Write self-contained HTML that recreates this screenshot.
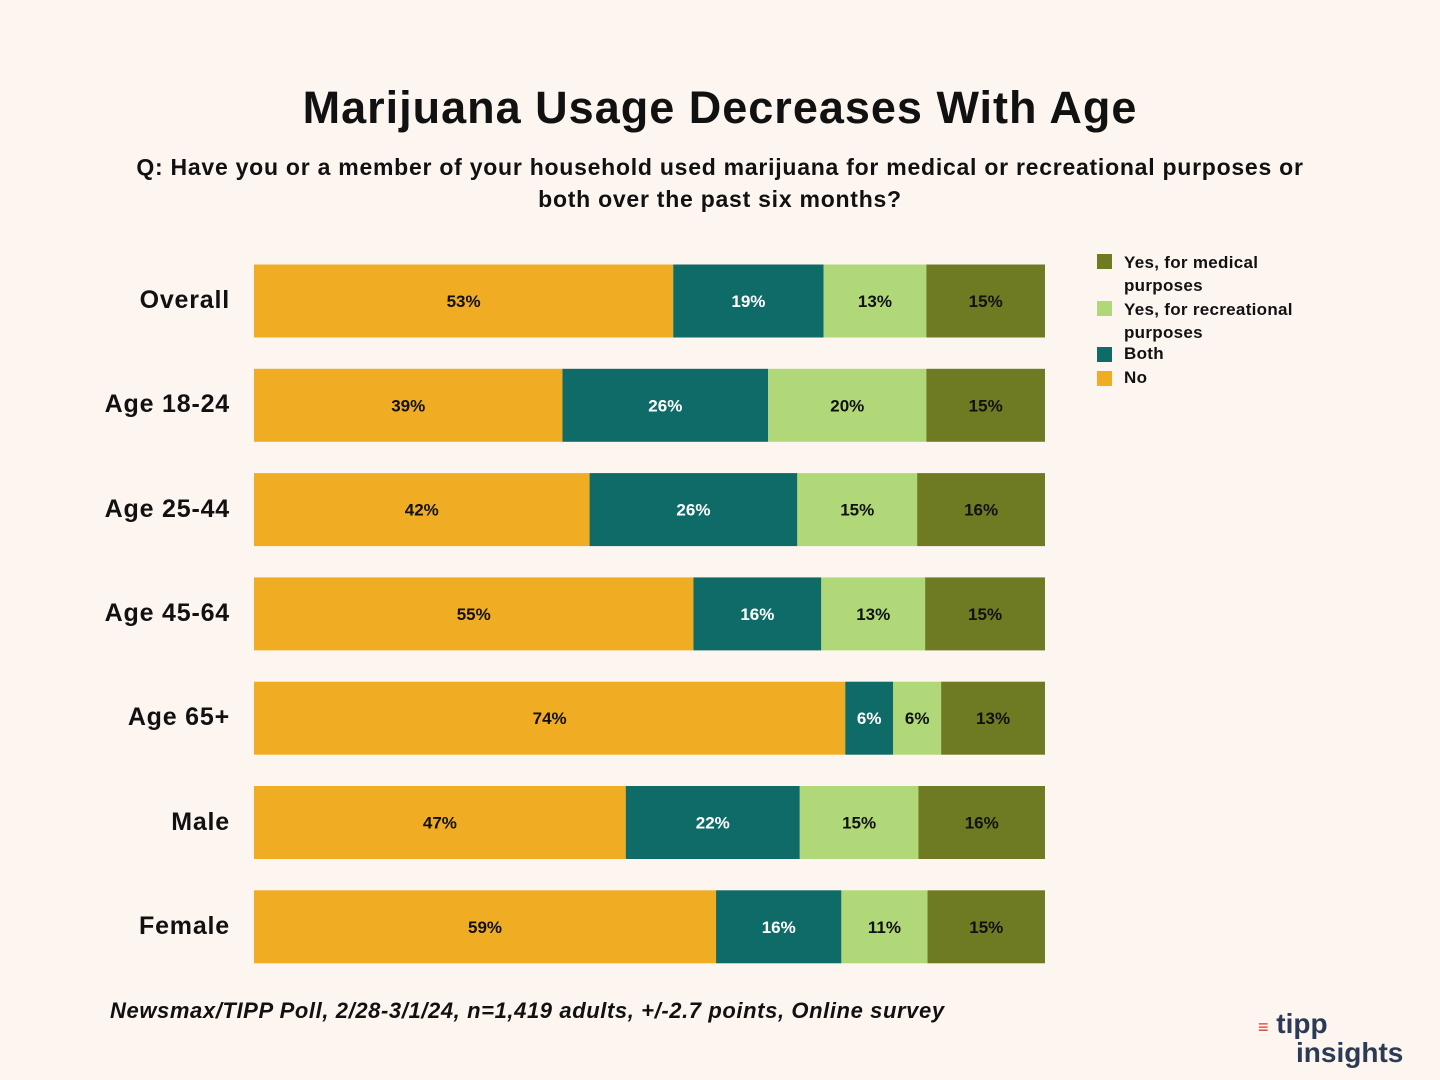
<!DOCTYPE html>
<html><head><meta charset="utf-8"><style>
body{margin:0;width:1440px;height:1080px;background:#fdf6f0;font-family:"Liberation Sans",sans-serif;overflow:hidden;position:relative}
.t{position:absolute;left:0;width:1440px;text-align:center;font-weight:bold;color:#111}
.lab{position:absolute;right:1210px;font-size:25px;letter-spacing:0.8px;font-weight:bold;color:#111;text-align:right;white-space:nowrap}
.leg{position:absolute;left:1097px;font-size:17px;color:#111;font-weight:bold;letter-spacing:0.3px}
.sw{position:absolute;width:15px;height:15px}
</style></head><body>
<div class="t" style="top:82px;font-size:45px;letter-spacing:1px">Marijuana Usage Decreases With Age</div>
<div class="t" style="top:151px;font-size:23px;line-height:32px;letter-spacing:0.75px">Q: Have you or a member of your household used marijuana for medical or recreational purposes or<br>both over the past six months?</div>
<svg id="chart" width="1440" height="1080" style="position:absolute;left:0;top:0"></svg>
<div id="labels"></div>
<div>
<div class="sw" style="left:1097px;top:254px;background:#6e7b23"></div>
<div class="leg" style="left:1124px;top:251px;line-height:23px">Yes, for medical<br>purposes</div>
<div class="sw" style="left:1097px;top:301px;background:#b0d879"></div>
<div class="leg" style="left:1124px;top:298px;line-height:23px">Yes, for recreational<br>purposes</div>
<div class="sw" style="left:1097px;top:347px;background:#0f6b67"></div>
<div class="leg" style="left:1124px;top:344px">Both</div>
<div class="sw" style="left:1097px;top:371px;background:#f0ad24"></div>
<div class="leg" style="left:1124px;top:368px">No</div>
</div>
<div style="position:absolute;left:110px;top:998px;font-size:22px;font-style:italic;font-weight:bold;color:#111;letter-spacing:0.6px">Newsmax/TIPP Poll, 2/28-3/1/24, n=1,419 adults, +/-2.7 points, Online survey</div>
<div style="position:absolute;left:1258px;top:1012px;font-weight:bold;color:#2b3a55;line-height:24px">
<span style="color:#e03a2f;font-size:18px">&#8801;</span><span style="font-size:28px"> tipp</span><br><span style="font-size:28px;margin-left:38px">insights</span></div>
<script>
const categories=["Overall","Age 18-24","Age 25-44","Age 45-64","Age 65+","Male","Female"];
const noVals=[53,39,42,55,74,47,59];
const bothVals=[19,26,26,16,6,22,16];
const recVals=[13,20,15,13,6,15,11];
const medVals=[15,15,16,15,13,16,15];
const series=[{v:noVals,c:"#f0ad24",t:"#111",n:"no"},{v:bothVals,c:"#0f6b67",t:"#fff",n:"both"},{v:recVals,c:"#b0d879",t:"#111",n:"recreational"},{v:medVals,c:"#6e7b23",t:"#111",n:"medical"}];
const X0=254,W=791,Y0=301,STEP=104.3,H=73;
const svg=document.getElementById('chart'),NS="http://www.w3.org/2000/svg";
const lab=document.getElementById('labels');
function yPos(i){return Y0+i*STEP;}
categories.forEach((cat,i)=>{
  const total=series.reduce((s,x)=>s+x.v[i],0);
  const xs=v=>X0+v/total*W;
  let cum=0;
  series.forEach(s=>{
    const v=s.v[i];const x1=xs(cum),x2=xs(cum+v);cum+=v;
    const r=document.createElementNS(NS,'rect');
    r.setAttribute('x',x1);r.setAttribute('y',yPos(i)-H/2);r.setAttribute('width',x2-x1);r.setAttribute('height',H);r.setAttribute('fill',s.c);
    
    
    svg.appendChild(r);
    const t=document.createElementNS(NS,'text');
    t.setAttribute('x',(x1+x2)/2);t.setAttribute('y',yPos(i)+6);t.setAttribute('text-anchor','middle');
    t.setAttribute('font-size','17');t.setAttribute('font-weight','bold');t.setAttribute('fill',s.t);
    t.setAttribute('font-family','Liberation Sans, sans-serif');
    t.textContent=v+'%';
    
    
    svg.appendChild(t);
  });
  const d=document.createElement('div');d.className='lab';d.style.top=(yPos(i)-15)+'px';d.textContent=cat;
  
  
  lab.appendChild(d);
});
</script>
</body></html>
